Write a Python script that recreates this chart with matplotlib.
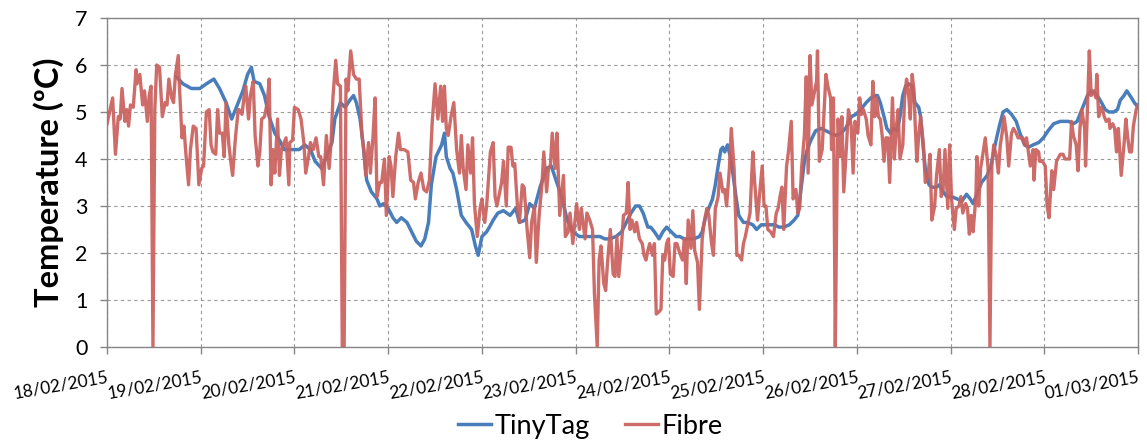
import numpy as np
import pandas as pd
import matplotlib
matplotlib.use('Agg')
import matplotlib.pyplot as plt
import matplotlib.dates as mdates

plt.rcParams['font.family'] = ['Lato', 'DejaVu Sans']

start = pd.Timestamp('2015-02-18')

# TinyTag logger, time in days since 18/02/2015 00:00
tiny_t = [0.74, 0.81, 0.90, 0.99, 1.06, 1.14, 1.20, 1.27, 1.33, 1.38, 1.45, 1.50, 1.54, 1.57, 1.63,
          1.68, 1.73, 1.79, 1.84, 1.89, 1.96, 2.05,
          2.11, 2.17, 2.22, 2.29, 2.34, 2.40, 2.43, 2.49, 2.54, 2.59, 2.63, 2.66, 2.70, 2.73, 2.77,
          2.82, 2.88, 2.91, 2.95, 3.00, 3.05, 3.09, 3.14, 3.20, 3.25, 3.30, 3.35, 3.39, 3.43, 3.46,
          3.51, 3.57, 3.60, 3.62, 3.66, 3.69, 3.73, 3.78, 3.83, 3.89, 3.93, 3.96, 4.00, 4.05, 4.08,
          4.12, 4.17, 4.23, 4.30, 4.36, 4.40, 4.46, 4.51, 4.56, 4.62, 4.69, 4.74, 4.79, 4.85, 4.91,
          4.97, 5.04, 5.11, 5.18, 5.26, 5.31, 5.36, 5.43, 5.49, 5.54, 5.59, 5.64, 5.68, 5.72, 5.77,
          5.80, 5.84, 5.89, 5.93, 5.97, 6.02, 6.07, 6.11,
          6.16, 6.21, 6.26, 6.32, 6.35, 6.39, 6.42, 6.46, 6.49, 6.52, 6.55, 6.57, 6.59, 6.62, 6.65,
          6.67, 6.71, 6.74, 6.79, 6.83, 6.89, 6.93, 6.98, 7.05, 7.12, 7.17, 7.22, 7.28, 7.33, 7.37,
          7.40, 7.44, 7.47, 7.51, 7.56, 7.62, 7.67, 7.72, 7.78, 7.83, 7.88, 7.94, 7.99, 8.04, 8.10,
          8.15,
          8.20, 8.22, 8.25, 8.29, 8.32, 8.36, 8.39, 8.43, 8.46, 8.49, 8.52, 8.55, 8.59, 8.62, 8.66,
          8.68, 8.71, 8.73, 8.77, 8.80, 8.85, 8.88, 8.92, 8.96, 9.01, 9.07, 9.12, 9.17, 9.21, 9.24,
          9.29, 9.33, 9.39, 9.43, 9.48, 9.52, 9.56, 9.60, 9.65, 9.70, 9.74, 9.79, 9.83, 9.88, 9.94,
          9.99, 10.04, 10.10, 10.17,
          10.20, 10.26, 10.31, 10.35, 10.39, 10.43, 10.46, 10.50, 10.54, 10.58, 10.61, 10.65, 10.69,
          10.74, 10.78, 10.81, 10.85, 10.88, 10.93, 10.96, 11.00]
tiny_v = [5.75, 5.6, 5.5, 5.5, 5.6, 5.7, 5.5, 5.2, 4.85, 5.1, 5.45, 5.8, 5.95, 5.65, 5.6,
          5.35, 4.9, 4.55, 4.4, 4.2, 4.2, 4.2,
          4.3, 4.2, 3.95, 3.8, 4.05, 4.35, 4.85, 5.2, 5.1, 5.25, 5.35, 5.2, 4.85, 4.35, 3.55,
          3.3, 3.15, 3.0, 3.05, 2.95, 2.75, 2.65, 2.75, 2.65, 2.45, 2.25, 2.15, 2.3, 2.65, 3.45,
          4.05, 4.3, 4.55, 4.05, 3.8, 3.7, 3.35, 2.8, 2.65, 2.5, 2.15, 1.95, 2.35, 2.45, 2.55,
          2.7, 2.85, 2.9, 2.8, 2.95, 2.65, 2.7, 3.05, 2.95, 3.4, 3.8, 3.85, 3.55, 3.2, 2.7,
          2.45, 2.35, 2.35, 2.35, 2.35, 2.3, 2.3, 2.35, 2.45, 2.65, 2.85, 3.0, 3.0, 2.85, 2.55,
          2.55, 2.45, 2.3, 2.45, 2.55, 2.45, 2.35, 2.35,
          2.3, 2.3, 2.3, 2.35, 2.45, 2.8, 2.95, 3.15, 3.45, 3.85, 4.2, 4.25, 4.15, 4.3, 4.05,
          3.8, 3.2, 2.8, 2.65, 2.65, 2.6, 2.5, 2.6, 2.6, 2.6, 2.55, 2.55, 2.6, 2.7, 2.8,
          3.3, 3.95, 4.2, 4.4, 4.6, 4.65, 4.6, 4.55, 4.5, 4.55, 4.65, 4.9, 4.95, 5.05, 5.2,
          5.3,
          5.35, 5.35, 5.2, 4.9, 4.65, 4.55, 4.65, 4.6, 4.9, 5.35, 5.55, 5.6, 5.55, 5.2, 5.1,
          4.9, 4.2, 3.8, 3.45, 3.4, 3.4, 3.45, 3.3, 3.2, 3.2, 3.15, 3.1, 3.25, 3.15, 3.05,
          3.3, 3.5, 3.65, 3.85, 4.35, 4.7, 5.0, 5.05, 4.95, 4.8, 4.55, 4.3, 4.25, 4.3, 4.35,
          4.45, 4.6, 4.75, 4.8,
          4.8, 4.8, 4.75, 4.8, 5.0, 5.2, 5.35, 5.45, 5.4, 5.3, 5.2, 5.05, 5.0,
          5.0, 5.05, 5.25, 5.35, 5.45, 5.3, 5.2, 5.1]

# Fibre sensor, time in days since 18/02/2015 00:00
fibre_t = [0.00, 0.06, 0.09, 0.12, 0.14, 0.16, 0.19, 0.21, 0.23, 0.25, 0.28, 0.31, 0.32, 0.35, 0.38,
           0.40, 0.43, 0.45, 0.47, 0.49, 0.51, 0.53, 0.56, 0.59, 0.62, 0.64, 0.66, 0.69, 0.71, 0.73,
           0.76, 0.77, 0.80, 0.82, 0.84, 0.87, 0.89, 0.92, 0.95, 0.98, 1.01, 1.03, 1.06, 1.09, 1.11,
           1.13, 1.16, 1.18, 1.20, 1.23, 1.25, 1.27, 1.30, 1.32, 1.34, 1.37, 1.40, 1.41, 1.44, 1.47,
           1.48, 1.51, 1.53, 1.56, 1.58, 1.61, 1.63, 1.65, 1.68, 1.71, 1.73, 1.75, 1.77, 1.79, 1.82,
           1.84, 1.86, 1.88, 1.91, 1.94, 1.95, 1.98, 2.00, 2.04,
           2.07, 2.10, 2.12, 2.15, 2.17, 2.20, 2.23, 2.26, 2.28, 2.31, 2.34, 2.37, 2.39, 2.41, 2.44,
           2.46, 2.49, 2.51, 2.53, 2.55, 2.57, 2.60, 2.63, 2.66, 2.69, 2.72, 2.74, 2.76, 2.79, 2.81,
           2.84, 2.86, 2.88, 2.91, 2.93, 2.96, 2.98, 3.01, 3.03, 3.05, 3.08, 3.11, 3.13, 3.17, 3.21,
           3.24, 3.27, 3.29, 3.32, 3.35, 3.38, 3.41, 3.44, 3.47, 3.50, 3.53, 3.56, 3.58, 3.60, 3.62,
           3.64, 3.67, 3.70, 3.73, 3.76, 3.78, 3.80, 3.83, 3.85, 3.88, 3.90, 3.92, 3.95, 3.98, 4.00,
           4.03, 4.05,
           4.09, 4.12, 4.14, 4.16, 4.19, 4.21, 4.23, 4.26, 4.28, 4.31, 4.33, 4.35, 4.38, 4.40, 4.43,
           4.45, 4.48, 4.51, 4.53, 4.56, 4.58, 4.61, 4.64, 4.66, 4.69, 4.71, 4.73, 4.75, 4.78, 4.80,
           4.83, 4.87, 4.89, 4.92, 4.94, 4.97, 5.01, 5.04, 5.06, 5.10, 5.12, 5.15, 5.18, 5.20, 5.23,
           5.25, 5.27, 5.30, 5.32, 5.34, 5.37, 5.40, 5.42, 5.44, 5.46, 5.49, 5.51, 5.54, 5.56, 5.58,
           5.60, 5.63, 5.65, 5.68, 5.71, 5.73, 5.75, 5.77, 5.79, 5.82, 5.84, 5.86, 5.89, 5.91, 5.93,
           5.95, 5.97, 5.99, 6.01, 6.04, 6.06, 6.08, 6.11,
           6.14, 6.16, 6.18, 6.20, 6.23, 6.25, 6.27, 6.30, 6.32, 6.35, 6.37, 6.40, 6.42, 6.45, 6.47,
           6.49, 6.52, 6.54, 6.57, 6.59, 6.61, 6.64, 6.66, 6.69, 6.72, 6.74, 6.77, 6.79, 6.81, 6.84,
           6.86, 6.89, 6.91, 6.94, 6.96, 6.99, 7.01, 7.03, 7.05, 7.08, 7.11, 7.14, 7.16, 7.18, 7.20,
           7.22, 7.25, 7.27, 7.30, 7.32, 7.35, 7.37, 7.39, 7.41, 7.44, 7.46, 7.48, 7.50, 7.52, 7.54,
           7.57, 7.58, 7.60, 7.63, 7.65, 7.67, 7.69, 7.72, 7.73, 7.75, 7.77, 7.79, 7.80, 7.82, 7.84,
           7.86, 7.89, 7.91, 7.94, 7.96, 7.98, 8.01, 8.03, 8.05, 8.07, 8.10, 8.12, 8.15,
           8.17, 8.19, 8.21, 8.23, 8.25, 8.27, 8.29, 8.31, 8.33, 8.35, 8.38, 8.40, 8.42, 8.44, 8.46,
           8.49, 8.51, 8.53, 8.55, 8.57, 8.59, 8.61, 8.62, 8.64, 8.66, 8.68, 8.71, 8.73, 8.76, 8.78,
           8.80, 8.83, 8.85, 8.88, 8.90, 8.92, 8.94, 8.97, 8.99, 9.01, 9.04, 9.06, 9.09, 9.11, 9.13,
           9.16, 9.18, 9.20, 9.22, 9.24, 9.27, 9.28, 9.30, 9.32, 9.34, 9.37, 9.40, 9.42, 9.44, 9.46,
           9.49, 9.51, 9.53, 9.55, 9.57, 9.60, 9.62, 9.65, 9.67, 9.70, 9.72, 9.74, 9.77, 9.79, 9.81,
           9.83, 9.85, 9.88, 9.89, 9.91, 9.94, 9.95, 9.98, 10.01, 10.03, 10.05, 10.08, 10.10, 10.13,
           10.17,
           10.20, 10.22, 10.25, 10.27, 10.29, 10.31, 10.34, 10.36, 10.38, 10.40, 10.43, 10.44, 10.46,
           10.48, 10.50, 10.53, 10.55, 10.56, 10.58, 10.60, 10.62, 10.64, 10.66, 10.69, 10.70, 10.73,
           10.75, 10.77, 10.79, 10.82, 10.85, 10.87, 10.89, 10.91, 10.93, 10.95, 10.98, 11.00]
fibre_v = [4.75, 5.3, 4.1, 4.9, 4.85, 5.5, 4.8, 5.05, 4.7, 5.15, 5.1, 5.9, 5.6, 5.8, 5.15,
           5.45, 4.8, 5.35, 5.55, 0.0, 5.05, 6.0, 5.95, 4.9, 5.2, 5.15, 5.7, 5.3, 5.2, 5.8,
           6.2, 5.65, 4.45, 4.7, 4.15, 3.45, 4.2, 4.7, 4.65, 3.45, 3.8, 3.85, 5.0, 5.05, 4.3,
           4.15, 4.1, 5.05, 4.55, 4.55, 4.05, 5.2, 4.3, 3.95, 3.65, 4.45, 5.05, 5.05, 4.95, 5.45,
           5.55, 4.85, 5.35, 5.65, 4.5, 3.85, 4.15, 4.85, 4.9, 5.2, 5.7, 3.45, 4.2, 3.7, 4.85,
           3.65, 4.2, 4.3, 4.45, 3.45, 4.35, 4.4, 5.1, 5.05,
           4.85, 4.35, 3.7, 4.05, 4.35, 4.2, 4.45, 4.05, 4.05, 3.45, 4.5, 3.8, 4.35, 5.3, 6.1,
           5.6, 5.55, 0.0, 0.0, 5.7, 5.45, 6.3, 5.8, 5.7, 5.7, 4.5, 4.2, 3.65, 4.35, 3.7,
           4.55, 5.3, 3.2, 3.5, 3.5, 4.0, 2.8, 4.05, 3.85, 3.2, 4.05, 4.55, 4.2, 4.2, 4.15,
           3.55, 3.5, 3.15, 3.5, 3.7, 3.35, 3.3, 3.55, 4.8, 5.6, 4.85, 5.55, 4.8, 5.55, 4.65,
           4.5, 4.9, 5.2, 4.2, 3.7, 4.5, 3.8, 3.35, 4.3, 3.7, 4.45, 3.05, 2.35, 2.95, 3.15,
           2.65, 3.0,
           4.15, 4.35, 3.2, 3.0, 3.3, 3.5, 3.95, 3.0, 4.25, 4.25, 3.85, 3.9, 2.95, 2.65, 3.45,
           3.4, 2.55, 1.9, 2.65, 3.0, 1.8, 2.8, 3.45, 4.15, 3.3, 3.8, 3.85, 4.55, 3.8, 4.55,
           2.8, 3.65, 2.35, 2.45, 2.85, 2.2, 3.05, 2.5, 2.95, 2.3, 2.85, 2.7, 2.5, 1.15, 0.0,
           1.85, 2.15, 1.35, 1.2, 1.8, 2.5, 1.55, 1.5, 2.35, 1.5, 2.2, 2.8, 2.85, 3.5, 2.5,
           2.7, 2.45, 2.65, 2.3, 2.2, 1.95, 1.85, 2.05, 2.2, 1.95, 2.2, 0.7, 0.75, 0.8, 1.95,
           1.85, 2.2, 2.3, 1.55, 1.5, 2.2, 2.2, 2.0,
           1.85, 2.3, 1.35, 2.7, 2.1, 2.9, 2.05, 1.8, 0.8, 2.3, 2.65, 2.95, 2.8, 2.2, 1.95,
           2.95, 3.2, 3.7, 3.3, 3.35, 3.0, 3.8, 4.65, 3.8, 1.95, 1.95, 1.85, 2.2, 2.35, 2.65,
           2.85, 4.15, 3.5, 2.7, 3.2, 3.85, 3.0, 3.0, 2.5, 2.45, 2.35, 2.85, 2.95, 3.2, 3.4,
           2.5, 3.85, 4.15, 4.8, 3.15, 3.35, 2.85, 2.95, 3.8, 4.5, 5.75, 3.7, 6.2, 5.15, 5.35,
           5.65, 6.3, 3.95, 4.2, 5.0, 5.8, 5.55, 5.3, 4.2, 5.3, 0.0, 3.85, 4.85, 4.05, 4.9,
           3.3, 4.3, 5.05, 4.7, 3.7, 4.8, 4.55, 5.3, 4.95, 5.05, 4.85, 4.5, 4.3,
           5.65, 4.9, 5.3, 4.9, 4.85, 4.5, 3.95, 4.45, 4.45, 3.5, 5.3, 4.0, 4.65, 5.05, 4.0,
           4.3, 5.3, 5.7, 5.45, 4.85, 5.8, 5.45, 4.85, 3.95, 4.5, 4.9, 4.3, 3.5, 3.65, 4.1,
           2.7, 3.0, 3.65, 4.2, 3.2, 3.35, 4.2, 2.95, 4.3, 3.15, 2.5, 2.95, 3.0, 3.2, 2.85,
           3.05, 2.95, 2.4, 2.8, 2.45, 3.2, 4.05, 3.0, 3.8, 4.05, 4.45, 3.8, 0.0, 3.85, 4.3,
           4.05, 3.7, 4.3, 4.55, 4.9, 4.45, 3.85, 4.55, 4.65, 4.55, 4.45, 4.45, 4.45, 4.3, 4.45,
           4.15, 3.85, 4.2, 3.55, 4.2, 4.15, 3.95, 3.95, 3.85, 3.0, 2.75, 3.75, 3.35, 3.95,
           4.1,
           4.1, 4.0, 4.0, 4.0, 4.8, 4.5, 4.3, 3.75, 4.65, 5.05, 4.65, 3.85, 5.05,
           6.3, 5.35, 5.45, 5.3, 5.8, 4.9, 5.1, 5.05, 4.9, 4.8, 4.85, 4.65, 4.75,
           4.65, 4.15, 4.65, 3.65, 4.3, 4.85, 4.45, 4.15, 4.15, 4.7, 5.05, 5.15]

day_ticks = pd.date_range('2015-02-18', '2015-03-01', freq='D')


def as_dates(days):
    return start + pd.to_timedelta(np.asarray(days), unit='D')


fig = plt.figure(figsize=(11.47, 4.44), dpi=100)
ax = fig.add_axes([0.0933, 0.2185, 0.8989, 0.741])

ax.plot(as_dates(tiny_t), tiny_v, color='#4a7ebb', lw=2.5, label='TinyTag', zorder=3)
ax.plot(as_dates(fibre_t), fibre_v, color='#c9605c', lw=2.4, alpha=0.92, label='Fibre', zorder=4)

ax.set_xlim(day_ticks[0], day_ticks[-1])
ax.set_ylim(0, 7)
ax.set_yticks(range(0, 8))
ax.set_xticks(day_ticks)
ax.xaxis.set_major_formatter(mdates.DateFormatter('%d/%m/%Y'))

ax.grid(True, color='#9a9a9a', linestyle=(0, (3, 3)), linewidth=0.8)
for sp in ax.spines.values():
    sp.set_color('#868686')
    sp.set_linewidth(1.0)
ax.tick_params(axis='both', colors='#868686', length=5, width=1.0, labelcolor='black')
ax.tick_params(axis='y', labelsize=15.5, pad=9)
ax.tick_params(axis='x', labelsize=12.5, pad=11)
for lab in ax.get_xticklabels():
    lab.set_rotation(10)
    lab.set_ha('right')
    lab.set_va('top')
    lab.set_rotation_mode('anchor')

ax.set_ylabel('Temperature (ºC)', fontsize=23.5, fontweight='bold', labelpad=8)

fig.legend(loc='lower center', bbox_to_anchor=(0.515, 0.0), ncol=2, frameon=False,
           fontsize=19.5, handlelength=1.2, handletextpad=0.15, columnspacing=1.3,
           borderpad=0.1, borderaxespad=0.1)

fig.savefig('out.png', dpi=100, facecolor='white')
